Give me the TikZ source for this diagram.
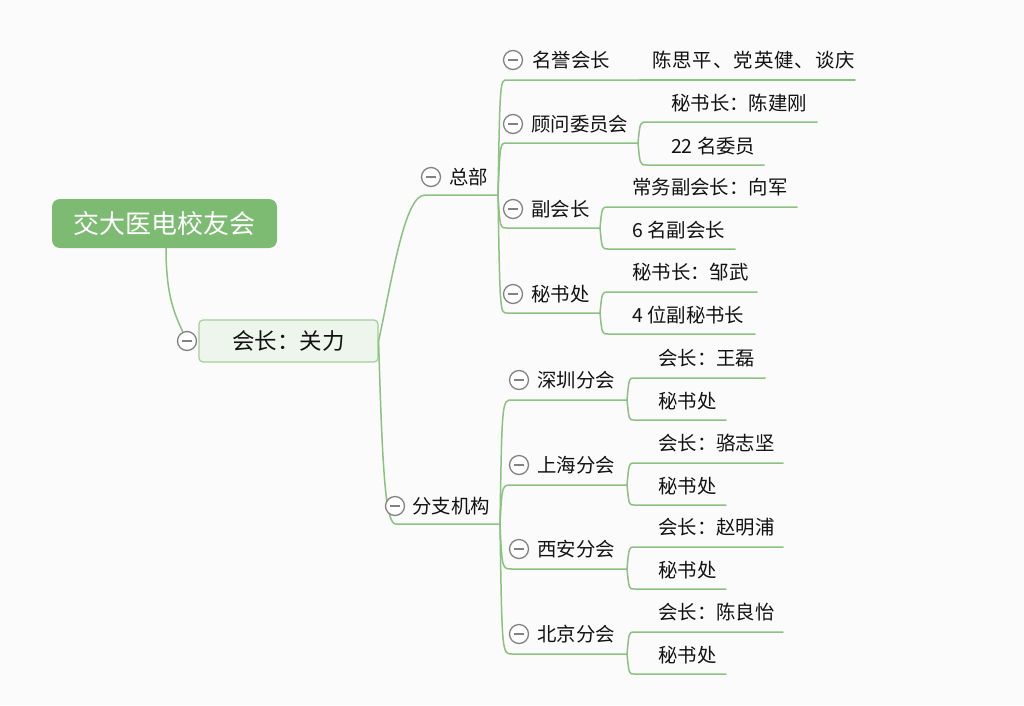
\documentclass[tikz,border=0pt]{standalone}
\usepackage{fontspec}
\setmainfont{Noto Sans CJK SC}
\usetikzlibrary{calc}
\definecolor{bgc}{RGB}{251,251,251}
\definecolor{lnc}{RGB}{140,193,130}
\definecolor{rootc}{RGB}{125,187,115}
\definecolor{mainc}{RGB}{238,245,236}
\definecolor{mainb}{RGB}{165,206,155}
\definecolor{togc}{RGB}{130,130,130}
\definecolor{txc}{RGB}{18,18,18}
\newcommand\brc[3]{\draw[conn] (#1) .. controls ($(#1|-#2)+(2,0)$) .. (#2) -- (#3);}
\newcommand\fenhui[6]{%
  \node[tog] (t#1) at (519,#2) {};
  \node[lbl] (#1) at (537,#2) {#3};
  \coordinate (#1S) at (512,#2+20);
  \coordinate (#1J) at (627,#2+20);
  \coordinate (#1aS) at (634,#2-2);
  \coordinate (#1aE) at (#5,#2-2);
  \coordinate (#1bS) at (634,#2+40);
  \coordinate (#1bE) at (726,#2+40);
  \node[lbl] (#1a) at (658,#2-22) {#4};
  \node[lbl] (#1b) at (658,#2+21) {#6};
  \brc{jf}{#1S}{#1J}
  \brc{#1J}{#1aS}{#1aE}
  \brc{#1J}{#1bS}{#1bE}
}
\begin{document}
\begin{tikzpicture}[x=1pt,y=-1pt,
  conn/.style={draw=lnc, line width=1.5pt, line cap=round},
  lbl/.style={anchor=west, inner sep=0pt, text=txc, text height=17pt, text depth=2.4pt,
    font=\fontsize{19.4}{22}\selectfont},
  tog/.style={circle, draw=togc, line width=1.3pt, fill=white, minimum size=19pt, inner sep=0pt,
    path picture={\draw[togc, line width=1.3pt] ([xshift=4.5pt]path picture bounding box.west) -- ([xshift=-4.5pt]path picture bounding box.east);}},
  rootn/.style={fill=rootc, rounded corners=8pt, minimum width=225pt, minimum height=49pt, inner sep=0pt,
    text=white, font=\fontsize{26}{30}\selectfont},
  presn/.style={fill=mainc, draw=mainb, line width=1.2pt, rounded corners=4pt, minimum width=179pt,
    minimum height=42pt, inner sep=0pt, text=txc, font=\fontsize{22.5}{26}\selectfont}
]
\fill[bgc] (0,0) rectangle (1024,705);

% root and president
\node[rootn] (root) at (164.5,223.5) {交大医电校友会};
\node[presn] (pres) at (288.5,341) {会长：关力};
\node[tog] (tpres) at (187,341) {};
\draw[conn] ($(root.south)+(1.5,0)$) .. controls +(0,50) and +(-7,-16) .. (tpres.115);

% level 1
\coordinate (zb) at (425,195);
\coordinate (jz) at (498,195);
\coordinate (fb) at (396,524);
\coordinate (jf) at (500,524);
\draw[conn] (pres.east) .. controls +(15,-70) and +(-20,0) .. (zb) -- (jz);
\draw[conn] (pres.east) .. controls +(4,140) and +(-10,0) .. (fb) -- (jf);
\node[tog] (tzb) at (431,177) {};
\node[lbl] (zbt) at (449,177) {总部};
\node[tog] (tfz) at (395,506) {};
\node[lbl] (fzt) at (412,506) {分支机构};

% 名誉会长
\coordinate (mS) at (507,80);
\coordinate (mJ) at (640,80);
\coordinate (mE) at (855,80);
\node[tog] (tm) at (513,60) {};
\node[lbl] (m) at (532,60) {名誉会长};
\node[lbl] (m1) at (652,60) {\addfontfeature{LetterSpace=5}陈思平、党英健、谈庆};
\brc{jz}{mS}{mJ}
\draw[conn] (mJ) -- (mE);

% 顾问委员会
\coordinate (gS) at (507,143);
\coordinate (gJ) at (638,143);
\coordinate (g1S) at (647,122);
\coordinate (g1E) at (817,122);
\coordinate (g2S) at (647,165);
\coordinate (g2E) at (764,165);
\node[tog] (tg) at (513,124) {};
\node[lbl] (g) at (531,124) {顾问委员会};
\node[lbl] (g1) at (671,103) {秘书长：陈建刚};
\node[lbl] (g2) at (671,146) {22 名委员};
\brc{jz}{gS}{gJ}
\brc{gJ}{g1S}{g1E}
\brc{gJ}{g2S}{g2E}

% 副会长
\coordinate (fS) at (507,228);
\coordinate (fJ) at (600,228);
\coordinate (f1S) at (608,207);
\coordinate (f1E) at (797,207);
\coordinate (f2S) at (608,249);
\coordinate (f2E) at (735,249);
\node[tog] (tf) at (513,209) {};
\node[lbl] (f) at (531,209) {副会长};
\node[lbl] (f1) at (632,187) {常务副会长：向军};
\node[lbl] (f2) at (632,230) {6 名副会长};
\brc{jz}{fS}{fJ}
\brc{fJ}{f1S}{f1E}
\brc{fJ}{f2S}{f2E}

% 秘书处
\coordinate (sS) at (507,313);
\coordinate (sJ) at (600,313);
\coordinate (s1S) at (608,292);
\coordinate (s1E) at (757,292);
\coordinate (s2S) at (608,334);
\coordinate (s2E) at (755,334);
\node[tog] (ts) at (513,294) {};
\node[lbl] (s) at (531,294) {秘书处};
\node[lbl] (s1) at (632,272) {秘书长：邹武};
\node[lbl] (s2) at (632,315) {4 位副秘书长};
\brc{jz}{sS}{sJ}
\brc{sJ}{s1S}{s1E}
\brc{sJ}{s2S}{s2E}

% 分会
\fenhui{sz}{380}{深圳分会}{会长：王磊}{765}{秘书处}
\fenhui{sh}{465}{上海分会}{会长：骆志坚}{783}{秘书处}
\fenhui{xa}{549}{西安分会}{会长：赵明浦}{783}{秘书处}
\fenhui{bj}{634}{北京分会}{会长：陈良怡}{783}{秘书处}
\end{tikzpicture}
\end{document}
